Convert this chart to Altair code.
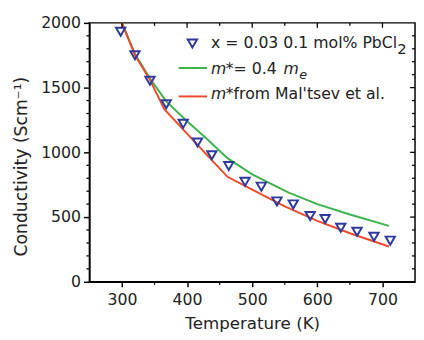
import altair as alt
import pandas as pd

# measured data (triangles)
temp_pts = [298, 320, 343, 368, 394, 416, 438, 464, 489, 514, 538, 563, 589, 612, 636, 661, 687, 712]
sigma_pts = [1932, 1750, 1553, 1371, 1220, 1076, 977, 894, 773, 735, 621, 598, 508, 485, 417, 386, 348, 318]

# model m* = 0.4 m_e (green)
temp_green = [300, 320, 343, 368, 400, 428, 462, 500, 556, 600, 650, 710]
sigma_green = [2000, 1760, 1570, 1394, 1240, 1114, 955, 830, 689, 600, 520, 432]

# model m* from Mal'tsev et al. (red)
temp_red = [300, 320, 343, 365, 400, 430, 462, 500, 550, 600, 650, 710]
sigma_red = [2000, 1750, 1560, 1333, 1145, 983, 811, 712, 583, 470, 375, 273]

x_major = [300, 400, 500, 600, 700]
x_minor = [350, 450, 550, 650]
y_major = [0, 500, 1000, 1500, 2000]
y_minor = [100, 200, 300, 400, 600, 700, 800, 900, 1100, 1200, 1300, 1400, 1600, 1700, 1800, 1900]

W, H = 332, 264
FONT = "DejaVu Sans"
TXT = "#222222"
BLUE = "#2f3a9e"
GREEN = "#3cb44b"
RED = "#ec4a2a"

xscale = alt.Scale(domain=[250, 750], nice=False, zero=False)
yscale = alt.Scale(domain=[0, 2000], nice=False, zero=False)
xaxis = alt.Axis(values=x_major, format="d", tickSize=5, tickWidth=1.5, tickColor="black",
                 domainColor="black", domainWidth=1.5, labelFont=FONT, labelFontSize=16,
                 labelColor=TXT, labelPadding=5, grid=False, title="Temperature (K)",
                 titleFont=FONT, titleFontSize=17, titleFontWeight="normal",
                 titleColor=TXT, titlePadding=9)
yaxis = alt.Axis(values=y_major, format="d", tickSize=6, tickWidth=1.5, tickColor="black",
                 domainColor="black", domainWidth=1.5, labelFont=FONT, labelFontSize=16,
                 labelColor=TXT, labelPadding=3, grid=False, title="Conductivity (Scm⁻¹)",
                 titleFont=FONT, titleFontSize=17.5, titleFontWeight="normal",
                 titleColor=TXT, titlePadding=10, titleY=146)

def X():
    return alt.X("T:Q", scale=xscale, axis=xaxis)

def Y():
    return alt.Y("S:Q", scale=yscale, axis=yaxis)

df_pts = pd.DataFrame({"T": temp_pts, "S": sigma_pts})
df_green = pd.DataFrame({"T": temp_green, "S": sigma_green})
df_red = pd.DataFrame({"T": temp_red, "S": sigma_red})

green = alt.Chart(df_green).mark_line(color=GREEN, strokeWidth=2).encode(x=X(), y=Y())
red = alt.Chart(df_red).mark_line(color=RED, strokeWidth=2).encode(x=X(), y=Y())
pts = alt.Chart(df_pts).mark_point(shape="triangle-down", size=90, filled=False,
                                   color=BLUE, strokeWidth=2, opacity=1).encode(x=X(), y=Y())

# extra ticks
df_xmaj = pd.DataFrame({"T": x_major})
df_xmin = pd.DataFrame({"T": x_minor})
df_ymaj = pd.DataFrame({"S": y_major[1:-1]})
df_ymin = pd.DataFrame({"S": y_minor})

tick_style = dict(color="black", strokeWidth=1.3)
bot_minor = alt.Chart(df_xmin).mark_rule(**tick_style).encode(x=X(), y=alt.value(H), y2=alt.value(H + 3))
top_major = alt.Chart(df_xmaj).mark_rule(**tick_style).encode(x=X(), y=alt.value(0), y2=alt.value(5))
top_minor = alt.Chart(df_xmin).mark_rule(**tick_style).encode(x=X(), y=alt.value(0), y2=alt.value(3))
left_minor = alt.Chart(df_ymin).mark_rule(**tick_style).encode(y=Y(), x=alt.value(0), x2=alt.value(-3))
right_major = alt.Chart(df_ymaj).mark_rule(**tick_style).encode(y=Y(), x=alt.value(W), x2=alt.value(W - 5))
right_minor = alt.Chart(df_ymin).mark_rule(**tick_style).encode(y=Y(), x=alt.value(W), x2=alt.value(W - 3))

one = pd.DataFrame({"k": [0]})

def txt(text, x, y, size=16, style="normal", color=TXT):
    return alt.Chart(one).mark_text(text=text, font=FONT, fontSize=size, fontStyle=style,
                                    color=color, align="left", baseline="middle").encode(
        x=alt.value(x), y=alt.value(y))

leg_sym = alt.Chart(one).mark_point(shape="triangle-down", size=90, filled=False, color=BLUE,
                                    strokeWidth=2, opacity=1).encode(x=alt.value(105), y=alt.value(21))
leg_green = alt.Chart(one).mark_rule(color=GREEN, strokeWidth=2).encode(
    x=alt.value(91), x2=alt.value(120), y=alt.value(46))
leg_red = alt.Chart(one).mark_rule(color=RED, strokeWidth=2).encode(
    x=alt.value(91), x2=alt.value(120), y=alt.value(75))

x0 = 124
legend = [
    leg_sym, leg_green, leg_red,
    txt("x = 0.03 0.1 mol% PbCl", x0, 21),
    txt("2", x0 + 190, 27, size=15),
    txt("m", x0, 47, style="italic"),
    txt("*= 0.4", x0 + 15, 47),
    txt("m", x0 + 74, 47, style="italic"),
    txt("e", x0 + 90, 53, size=13, style="italic"),
    txt("m", x0, 73, style="italic"),
    txt("*from Mal'tsev et al.", x0 + 15, 73),
]

chart = alt.layer(
    green, red, pts, bot_minor, top_major, top_minor, left_minor, right_major, right_minor,
    *legend
).properties(
    width=W, height=H,
    padding={"left": 83, "top": 12, "right": 1, "bottom": 48},
    autosize=alt.AutoSizeParams(type="none"),
    background="white",
).configure_view(stroke="black", strokeWidth=1.5)

chart.save("out.html", embed_options={"renderer": "svg", "actions": False})
